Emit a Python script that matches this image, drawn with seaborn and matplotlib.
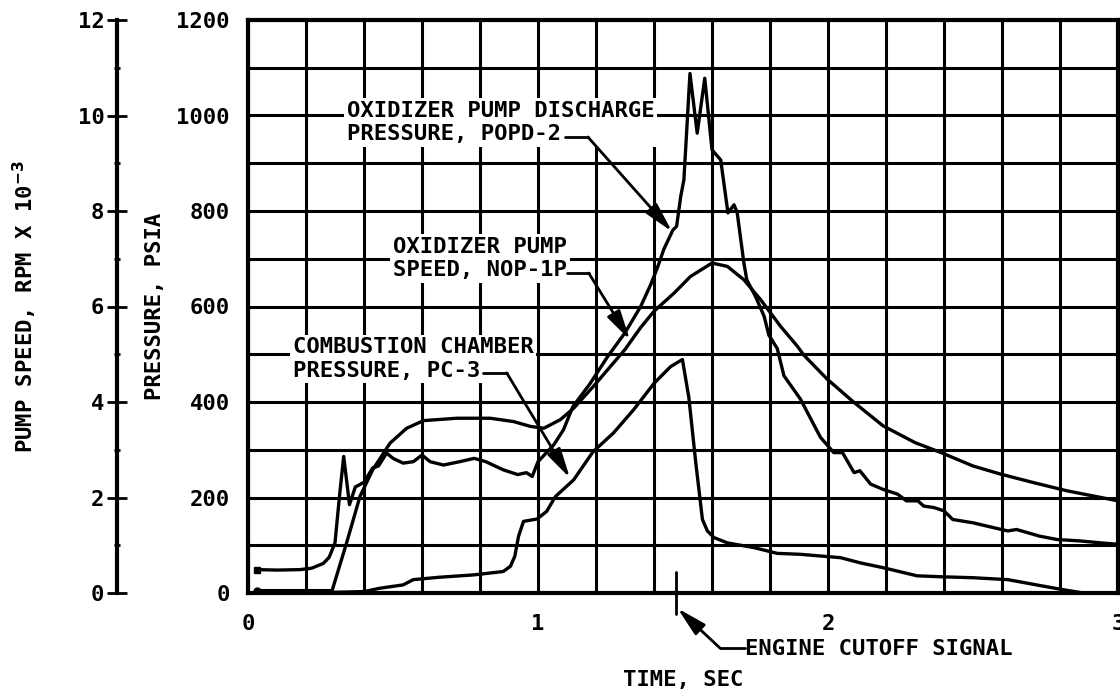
import matplotlib
matplotlib.use("Agg")
import matplotlib.pyplot as plt
from matplotlib.ticker import MultipleLocator
import seaborn as sns
import numpy as np

# ---------------- data ----------------
popd_t = [0.03, 0.10, 0.18, 0.22, 0.26, 0.28, 0.30, 0.315, 0.33, 0.35, 0.37, 0.40, 0.43, 0.45,
          0.478, 0.50, 0.535, 0.57, 0.60, 0.628, 0.674, 0.73, 0.78, 0.82, 0.88, 0.93, 0.96, 0.98,
          1.00, 1.054, 1.088, 1.12, 1.18, 1.24, 1.30, 1.354, 1.388, 1.411, 1.434, 1.465, 1.478,
          1.492, 1.503, 1.509, 1.524, 1.549, 1.575, 1.60, 1.63, 1.655, 1.676, 1.687, 1.71, 1.72,
          1.75, 1.78, 1.796, 1.825, 1.848, 1.905, 1.974, 2.02, 2.05, 2.09, 2.11, 2.147, 2.19,
          2.24, 2.27, 2.31, 2.33, 2.365, 2.40, 2.43, 2.50, 2.57, 2.62, 2.65, 2.73, 2.79, 2.87,
          2.94, 3.0]
popd_p = [49, 48, 49, 52, 62, 75, 105, 200, 286, 185, 222, 232, 262, 266,
          293, 282, 272, 275, 289, 275, 268, 275, 282, 275, 258, 248, 252, 244,
          275, 310, 342, 390, 439, 495, 545, 600, 645, 680, 720, 760, 768,
          830, 865, 928, 1088, 963, 1078, 928, 907, 796, 813, 796, 691, 656,
          621, 579, 540, 512, 455, 406, 326, 294, 294, 252, 256, 228, 217,
          207, 193, 193, 182, 179, 172, 154, 147, 137, 130, 133, 119, 112, 109,
          105, 102]

# oxidizer pump speed, RPM x 10^-3
nop_t = [0.03, 0.29, 0.34, 0.386, 0.43, 0.49, 0.547, 0.605, 0.72, 0.835, 0.916, 0.973, 1.02,
         1.077, 1.123, 1.19, 1.30, 1.354, 1.40, 1.469, 1.526, 1.60, 1.653, 1.71, 1.768, 1.837,
         1.894, 1.917, 1.997, 2.09, 2.19, 2.30, 2.39, 2.50, 2.595, 2.71, 2.824, 3.0]
nop_k = [0.05, 0.05, 1.05, 2.02, 2.58, 3.14, 3.45, 3.61, 3.66, 3.66, 3.59, 3.49, 3.45,
         3.63, 3.87, 4.32, 5.10, 5.56, 5.90, 6.28, 6.63, 6.91, 6.84, 6.56, 6.14, 5.58,
         5.17, 4.98, 4.48, 3.99, 3.50, 3.15, 2.94, 2.66, 2.49, 2.31, 2.14, 1.93]

pc_t = [0.0, 0.20, 0.40, 0.455, 0.535, 0.57, 0.66, 0.78, 0.88, 0.905, 0.92, 0.933, 0.95, 0.997,
        1.03, 1.06, 1.123, 1.19, 1.26, 1.33, 1.40, 1.457, 1.498, 1.52, 1.544, 1.567, 1.584,
        1.607, 1.653, 1.745, 1.825, 1.905, 2.043, 2.112, 2.19, 2.307, 2.39, 2.50, 2.62, 2.71,
        2.80, 2.88, 3.0]
pc_p = [0, 0, 3, 10, 17, 28, 33, 38, 45, 56, 77, 119, 150, 155,
        171, 202, 237, 296, 335, 384, 439, 474, 489, 410, 273, 154, 130,
        116, 105, 95, 83, 81, 74, 63, 53, 36, 34, 32, 28, 18,
        8, 0, 0]

cutoff_t = 1.476
x_ticks = [0, 1, 2, 3]
p_ticks = [0, 200, 400, 600, 800, 1000, 1200]
rpm_ticks = [0, 2, 4, 6, 8, 10, 12]

# ---------------- style ----------------
sns.set_style("white")
FONT = ["DejaVu Sans Mono", "DejaVu Sans"]
plt.rcParams["font.family"] = FONT
plt.rcParams["font.weight"] = "bold"
plt.rcParams["axes.labelweight"] = "bold"
for k in ["text.color", "axes.labelcolor", "xtick.color", "ytick.color"]:
    plt.rcParams[k] = "black"

fig = plt.figure(figsize=(11.2, 6.94), dpi=100)
ax = fig.add_axes([248 / 1120, 101 / 694, 870 / 1120, 573 / 694])

LW = 2.4
sns.lineplot(x=popd_t, y=popd_p, ax=ax, color="black", lw=LW, sort=False, estimator=None, zorder=5)
sns.lineplot(x=pc_t, y=pc_p, ax=ax, color="black", lw=LW, sort=False, estimator=None, zorder=5)
ax.plot([popd_t[0]], [popd_p[0]], "s", color="black", ms=5, zorder=6)

ax.set_xlim(0, 3)
ax.set_ylim(0, 1200)
ax.xaxis.set_major_locator(MultipleLocator(1))
ax.xaxis.set_minor_locator(MultipleLocator(0.2))
ax.yaxis.set_major_locator(MultipleLocator(200))
ax.yaxis.set_minor_locator(MultipleLocator(100))
ax.set_xticks(x_ticks)
ax.set_yticks(p_ticks)
ax.grid(True, which="both", color="black", lw=2.2, zorder=1)
ax.set_axisbelow(True)
ax.tick_params(axis="y", which="both", length=0, labelsize=16, pad=13)
ax.tick_params(axis="x", which="both", length=0, labelsize=16, pad=15)
for s in ax.spines.values():
    s.set_color("black")
    s.set_linewidth(3)
ax.set_xlabel("TIME, SEC", fontsize=16, labelpad=26)
ax.set_ylabel("PRESSURE, PSIA", fontsize=16, labelpad=8)

# pump speed axis
ax2 = ax.twinx()
sns.lineplot(x=nop_t, y=nop_k, ax=ax2, color="black", lw=LW, sort=False, estimator=None, zorder=5)
ax2.plot([nop_t[0]], [nop_k[0]], "o", color="black", ms=5, zorder=6)
ax2.set_ylim(0, 12)
ax2.set_xlim(0, 3)
ax2.yaxis.set_ticks_position("left")
ax2.yaxis.set_label_position("left")
ax2.spines["left"].set_position(("axes", -(248 - 117) / 870))
ax2.spines["left"].set_visible(True)
ax2.spines["left"].set_linewidth(3)
ax2.spines["left"].set_color("black")
for k in ["right", "top", "bottom"]:
    ax2.spines[k].set_visible(False)
ax2.set_yticks(rpm_ticks)
ax2.yaxis.set_minor_locator(MultipleLocator(1))
ax2.tick_params(axis="y", which="major", direction="inout", length=14, width=2, labelsize=16, pad=2)
ax2.tick_params(axis="y", which="minor", direction="inout", length=5, width=2)
ax2.set_ylabel("PUMP SPEED, RPM X 10$^{-3}$", fontsize=16, labelpad=28)
ax2.grid(False)

# ---------------- annotations ----------------
bb = dict(facecolor="white", edgecolor="none", pad=2)
akw = dict(arrowstyle="-|>,head_length=0.9,head_width=0.22", color="black", lw=2,
           shrinkA=0, shrinkB=0, mutation_scale=20)
tk = dict(fontsize=16, ha="left", va="center", linespacing=1.2, bbox=bb, zorder=7)

ax.text(0.34, 985, "OXIDIZER PUMP DISCHARGE\nPRESSURE, POPD-2", **tk)
ax.plot([1.093, 1.172], [955, 955], color="black", lw=2, zorder=7)
ax.annotate("", xy=(1.462, 757), xytext=(1.172, 955), arrowprops=akw, zorder=7)

ax.text(0.50, 700, "OXIDIZER PUMP\nSPEED, NOP-1P", **tk)
ax.plot([1.10, 1.175], [670, 670], color="black", lw=2, zorder=7)
ax.annotate("", xy=(1.317, 530), xytext=(1.175, 670), arrowprops=akw, zorder=7)

ax.text(0.155, 490, "COMBUSTION CHAMBER\nPRESSURE, PC-3", **tk)
ax.plot([0.81, 0.892], [461, 461], color="black", lw=2, zorder=7)
ax.annotate("", xy=(1.11, 241), xytext=(0.892, 461), arrowprops=akw, zorder=7)

ax.plot([cutoff_t, cutoff_t], [45, -45], color="black", lw=2, clip_on=False, zorder=7)
ax.plot([1.627, 1.713], [-115, -115], color="black", lw=2, clip_on=False, zorder=7)
ax.annotate("", xy=(cutoff_t + 0.005, -32), xytext=(1.627, -115), arrowprops=akw,
            annotation_clip=False, zorder=7)
ax.text(1.715, -117, "ENGINE CUTOFF SIGNAL", fontsize=16, ha="left", va="center", clip_on=False)

fig.savefig("out.png", dpi=100, facecolor="white")
